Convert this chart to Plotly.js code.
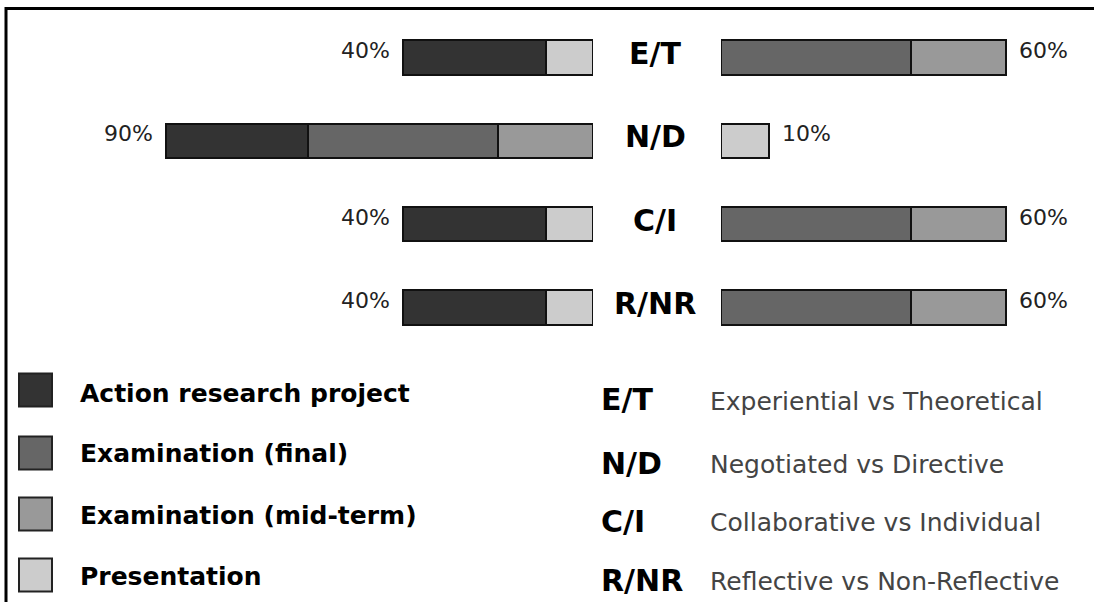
<!DOCTYPE html>
<html><head><meta charset="utf-8">
<script src="https://cdn.plot.ly/plotly-3.0.1.min.js"></script>
<style>html,body{margin:0;padding:0;background:#fff;overflow:hidden}#chart{width:1094px;height:602px}</style>
</head><body><div id="chart"></div>
<script>
// ---- data ----
const categories = ["E/T", "N/D", "C/I", "R/NR"];
const descriptions = ["Experiential vs Theoretical", "Negotiated vs Directive", "Collaborative vs Individual", "Reflective vs Non-Reflective"];
const seriesNames = ["Action research project", "Examination (final)", "Examination (mid-term)", "Presentation"];
const seriesColors = ["#333333", "#666666", "#999999", "#cccccc"];
// first pole (left side), % of assessment
const actionLeft = [30, 30, 30, 30];
const finalLeft  = [0, 40, 0, 0];
const midLeft    = [0, 20, 0, 0];
const presLeft   = [10, 0, 10, 10];
// second pole (right side)
const actionRight = [0, 0, 0, 0];
const finalRight  = [40, 0, 40, 40];
const midRight    = [20, 0, 20, 20];
const presRight   = [0, 10, 0, 0];

// ---- layout helpers ----
const W = 1094, H = 602;
const px = v => v / W;
const py = v => 1 - v / H;
const FONT = "DejaVu Sans, Verdana, sans-serif";
const nz = arr => arr.map(v => v === 0 ? null : v);

const leftSeries  = [actionLeft, finalLeft, midLeft, presLeft];
const rightSeries = [actionRight, finalRight, midRight, presRight];
// stacking order from the centre outward
const leftOrder  = [3, 2, 1, 0];
const rightOrder = [1, 2, 3, 0];

const traces = [];
leftOrder.forEach(i => traces.push({
  type: "bar", orientation: "h", name: seriesNames[i],
  y: categories, x: nz(leftSeries[i]), xaxis: "x", yaxis: "y",
  width: 0.41, marker: {color: seriesColors[i], line: {color: "#111", width: 2}},
  showlegend: false, hoverinfo: "skip"
}));
rightOrder.forEach(i => traces.push({
  type: "bar", orientation: "h", name: seriesNames[i],
  y: categories, x: nz(rightSeries[i]), xaxis: "x2", yaxis: "y",
  width: 0.41, marker: {color: seriesColors[i], line: {color: "#111", width: 2}},
  showlegend: false, hoverinfo: "skip"
}));

const sumAt = (list, k) => list.reduce((s, a) => s + a[k], 0);
const annotations = [];
categories.forEach((c, k) => {
  const tl = sumAt(leftSeries, k), tr = sumAt(rightSeries, k);
  annotations.push({xref: "x", yref: "y", x: tl, y: c, text: tl + "%", showarrow: false,
    xanchor: "right", yanchor: "middle", xshift: -11, yshift: 7,
    font: {family: FONT, size: 22, color: "#222"}});
  annotations.push({xref: "x2", yref: "y", x: tr, y: c, text: tr + "%", showarrow: false,
    xanchor: "left", yanchor: "middle", xshift: 11, yshift: 7,
    font: {family: FONT, size: 22, color: "#222"}});
  annotations.push({xref: "paper", yref: "y", x: px(655), y: c, text: c, showarrow: false,
    xanchor: "center", yanchor: "middle", yshift: 4,
    font: {family: FONT, size: 30, color: "#000", weight: "bold"}});
});

// legend (series)
const shapes = [];
const legY = [390, 453, 514, 575];
const legTextY = [393, 453, 515, 576];
seriesNames.forEach((n, i) => {
  shapes.push({type: "rect", xref: "paper", yref: "paper",
    x0: px(19), x1: px(52), y0: py(legY[i] - 16.5), y1: py(legY[i] + 16.5),
    fillcolor: seriesColors[i], line: {color: "#222", width: 2}});
  annotations.push({xref: "paper", yref: "paper", x: px(78), y: py(legTextY[i]), text: n,
    showarrow: false, xanchor: "left", yanchor: "middle",
    font: {family: FONT, size: 25, color: "#000", weight: "bold"}});
});
// legend (abbreviations)
const abY = [399, 463, 521, 580];
const descY = [401, 464, 522, 581];
categories.forEach((c, i) => {
  annotations.push({xref: "paper", yref: "paper", x: px(599), y: py(abY[i]), text: c,
    showarrow: false, xanchor: "left", yanchor: "middle",
    font: {family: FONT, size: 30, color: "#000", weight: "bold"}});
  annotations.push({xref: "paper", yref: "paper", x: px(708), y: py(descY[i]), text: descriptions[i],
    showarrow: false, xanchor: "left", yanchor: "middle",
    font: {family: FONT, size: 25, color: "#444"}});
});

// frame
shapes.push({type: "line", xref: "paper", yref: "paper", x0: px(5), x1: 1, y0: py(8.5), y1: py(8.5), line: {color: "#000", width: 3}});
shapes.push({type: "line", xref: "paper", yref: "paper", x0: px(6), x1: px(6), y0: py(7), y1: 0, line: {color: "#000", width: 3}});

const axisOff = {showgrid: false, zeroline: false, showline: false, showticklabels: false, ticks: "", fixedrange: true};
const layout = {
  width: W, height: H, margin: {l: 0, r: 0, t: 0, b: 0},
  paper_bgcolor: "#fff", plot_bgcolor: "rgba(0,0,0,0)",
  barmode: "stack", showlegend: false,
  xaxis: Object.assign({}, axisOff, {domain: [px(118), px(593)], range: [100, 0], anchor: "y"}),
  xaxis2: Object.assign({}, axisOff, {domain: [px(721), px(1053.5)], range: [0, 70], anchor: "y"}),
  yaxis: Object.assign({}, axisOff, {type: "category", domain: [py(349.17), py(15.83)], range: [3.5, -0.5], anchor: "x"}),
  annotations: annotations, shapes: shapes
};
Plotly.newPlot("chart", traces, layout, {displayModeBar: false, staticPlot: true});
</script></body></html>
